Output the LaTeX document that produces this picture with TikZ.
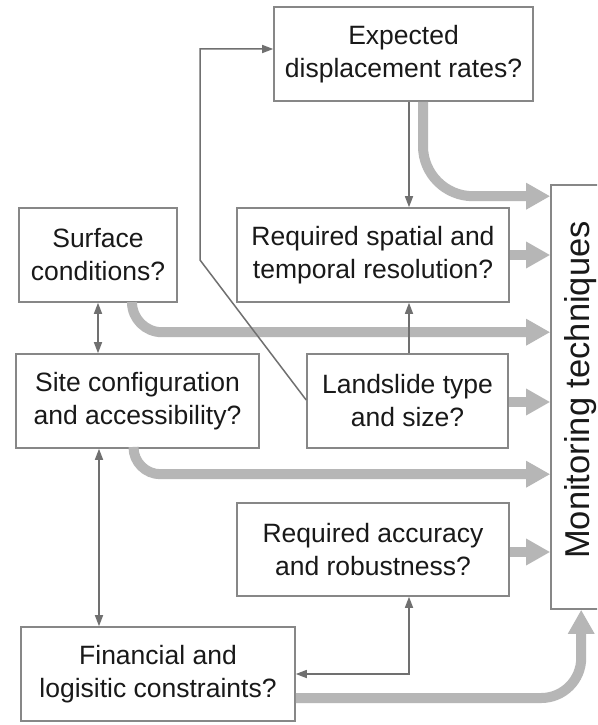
\documentclass[tikz,border=0pt]{standalone}
\usepackage{fontspec}
\setmainfont{Liberation Sans}
\usetikzlibrary{arrows.meta}
\definecolor{boxline}{RGB}{135,135,135}
\definecolor{thinline}{RGB}{112,112,112}
\definecolor{thickline}{RGB}{182,182,182}
\definecolor{txt}{RGB}{25,25,25}
\begin{document}
\begin{tikzpicture}[x=1pt,y=-1pt,
  qbox/.style={draw=boxline, line width=1.6pt, fill=white, text=txt, align=center,
    font=\fontsize{26.5}{33}\selectfont, inner sep=0pt},
  flow/.style={draw=thickline, line width=10pt, -{Triangle[width=25pt,length=24pt]}},
  link/.style={draw=thinline, line width=1.5pt, -{Triangle[width=8pt,length=11pt]}},
  linkboth/.style={draw=thinline, line width=1.5pt, {Triangle[width=8pt,length=11pt]}-{Triangle[width=8pt,length=11pt]}}]
\useasboundingbox (0,0) rectangle (597,725);
\clip (0,0) rectangle (597,725);
\fill[white] (0,0) rectangle (597,725);

% boxes
\node[qbox, minimum width=259pt, minimum height=94pt] (exp) at (403.5,54) {Expected\\displacement rates?};
\node[qbox, minimum width=272pt, minimum height=94pt] (req) at (373,255) {Required spatial and\\temporal resolution?};
\node[qbox, minimum width=158pt, minimum height=94pt] (surf) at (98,255) {Surface\\conditions?};
\node[qbox, minimum width=243pt, minimum height=94pt] (site) at (137.5,401) {Site configuration\\and accessibility?};
\node[qbox, minimum width=201pt, minimum height=94pt] (land) at (407.5,401) {Landslide type\\and size?};
\node[qbox, minimum width=272pt, minimum height=93pt] (acc) at (373,549.5) {Required accuracy\\and robustness?};
\node[qbox, minimum width=274pt, minimum height=94pt] (fin) at (158,674) {Financial and\\logisitic constraints?};
\node[qbox, minimum width=90pt, minimum height=424pt] (mon) at (596,397) {};
\node[rotate=90, anchor=base, text=txt, font=\fontsize{34.5}{40}\selectfont, inner sep=0pt] (montxt) at (589,390) {Monitoring techniques};

% helper coordinates
\coordinate (cx) at (409,0);
\coordinate (cl) at (99,0);
\coordinate (k1) at (200,260);

% thick flows
\draw[flow, rounded corners=50pt] ([xshift=19.5pt]exp.south) |- ([yshift=-12pt]mon.north west);
\draw[flow] (req.east) -- (req.east -| mon.west);
\draw[flow, rounded corners=30pt] ([xshift=34pt]surf.south) |- ([yshift=-148pt]mon.north west);
\draw[flow] ([yshift=-1pt]land.east) -- ([yshift=-1pt]land.east -| mon.west);
\draw[flow, rounded corners=27pt] ([xshift=-4pt]site.south) |- ([yshift=-290pt]mon.north west);
\draw[flow] ([yshift=-2.5pt]acc.east) -- ([yshift=-2.5pt]acc.east -| mon.west);
\draw[flow, rounded corners=40pt] ([yshift=-24pt]fin.east) -| ([xshift=31pt]mon.south west);

% thin links
\draw[link] (exp.south -| cx) -- (req.north -| cx);
\draw[link] (land.north -| cx) -- (req.south -| cx);
\draw[linkboth] (surf.south) -- (surf.south |- site.north);
\draw[linkboth] (site.south -| cl) -- (fin.north -| cl);
\draw[linkboth] (acc.south -| cx) |- (fin.east);
\draw[link] ([yshift=1pt]land.west) -- (k1) |- ([yshift=5pt]exp.west);
\end{tikzpicture}
\end{document}
